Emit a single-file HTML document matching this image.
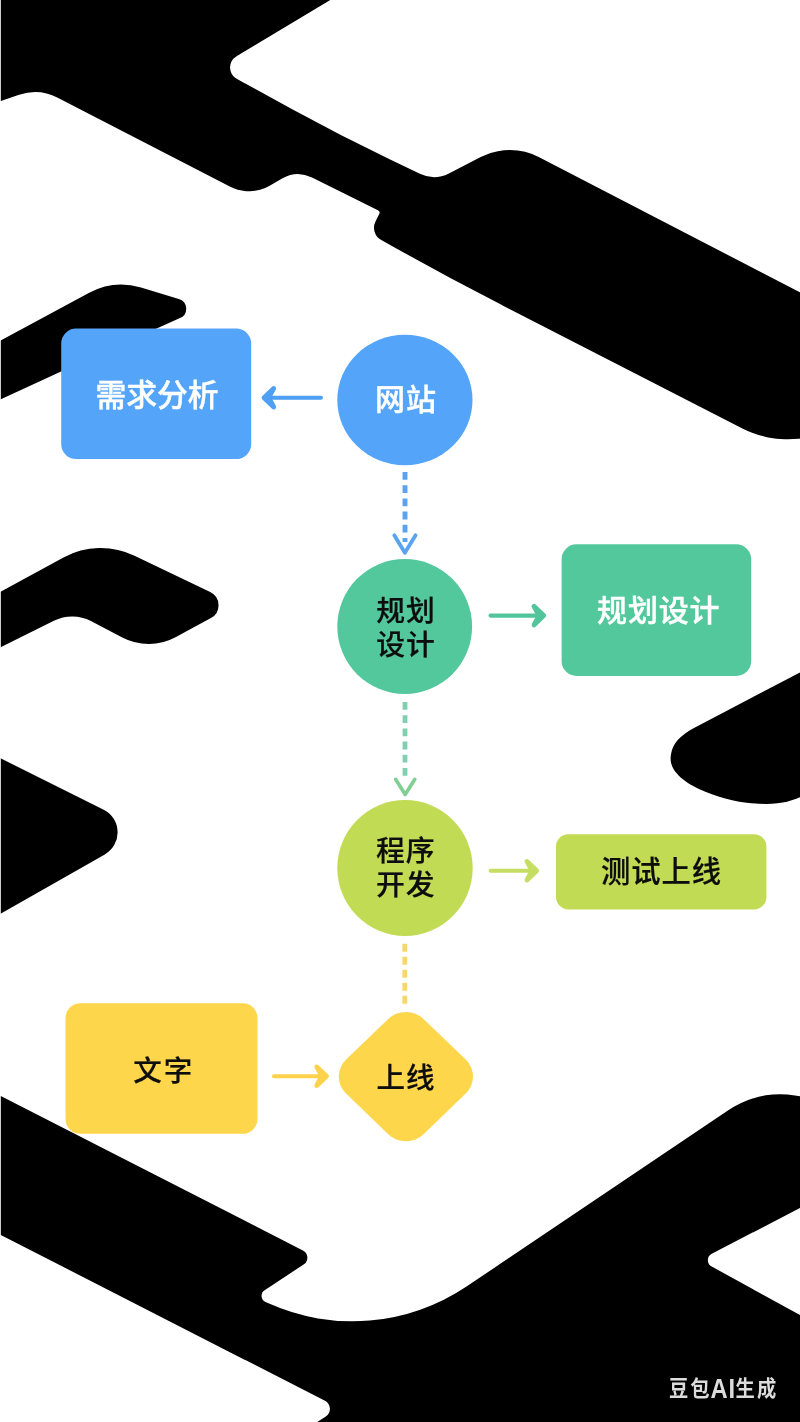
<!DOCTYPE html>
<html lang="zh-CN">
<head>
<meta charset="utf-8">
<title>网站建设流程图</title>
<style>
html,body{margin:0;padding:0;background:#fff;}
body{width:800px;height:1422px;overflow:hidden;position:relative;font-family:"Liberation Sans","Noto Sans CJK SC",sans-serif;}
svg{position:absolute;left:-10px;top:-10px;display:block;will-change:transform;}
text{font-family:"Liberation Sans","Noto Sans CJK SC",sans-serif;font-weight:700;text-anchor:middle;}
.w{fill:#fff;font-weight:500;stroke:#fff;stroke-width:0.45px;stroke-linejoin:round;}
.k{fill:#0d0d0d;font-weight:500;stroke:#0d0d0d;stroke-width:0.22px;stroke-linejoin:round;}
.wm{fill:#dcdcdc;font-weight:700;}
</style>
</head>
<body>
<svg width="820" height="1442" viewBox="-10 -10 820 1442" role="img" aria-label="网站建设流程图">
<rect x="-10" y="-10" width="820" height="1442" fill="#fff"/>
<g fill="#000">
<path d="M-12.0 -12.0L350.3 -12.0L236.2 56.5A12.9 12.9 0 0 0 236.7 78.8L292.7 109.4A2075.8 2075.8 0 0 0 388.6 158.7L419.9 173.8A32.5 32.5 0 0 0 448.9 173.4L480.7 157.1A63.8 63.8 0 0 1 539.2 157.2L812.0 298.6L900.0 298.6L900.0 399.0L827.8 430.9A99.3 99.3 0 0 1 742.4 428.4L503.1 305.7A3298.7 3298.7 0 0 1 401.8 251.5L381.3 240.1A14.1 14.1 0 0 1 375.5 221.5L379.2 214.1A2.9 2.9 0 0 0 377.9 210.2L312.0 177.5A31.3 31.3 0 0 0 282.5 178.3L269.7 185.7A41.7 41.7 0 0 1 229.8 186.6L57.7 97.7A49.4 49.4 0 0 0 19.1 94.8L-12.0 105.4Z"/>
<path d="M-12.0 347.3L89.2 292.8A68.0 68.0 0 0 1 141.0 287.6L178.8 298.9A10.2 10.2 0 0 1 180.0 318.1L150.0 331.6L60.0 372.0L-12.0 405.2Z"/>
<path d="M-12.0 598.5L63.5 557.5A78.0 78.0 0 0 1 134.5 555.8L210.2 592.1A14.6 14.6 0 0 1 210.9 618.1L175.5 637.2A56.6 56.6 0 0 1 122.3 637.6L90.9 621.1A40.8 40.8 0 0 0 53.9 620.8L-12.0 653.5Z"/>
<path d="M-12.0 752.0L103.7 809.8A25.3 25.3 0 0 1 104.8 854.4L-12.0 920.8Z"/>
<path d="M812 666.1L694 728C678 736.4 670.6 746 670.6 759C670.6 773 688 784 699 789C719 798 741 804 766 804C782 804 795 800 805 795L812 791.5Z"/>
</g>
<!-- step 1 -->
<rect x="61.2" y="328.5" width="190" height="130.6" rx="15" fill="#54A4F9"/>
<text class="w" transform="translate(157.00 405.63) scale(1.000 1)" font-size="30.80" stroke-width="0.00">需求分析</text>
<g stroke="#4F9FF2" fill="none" stroke-linecap="round" stroke-linejoin="round"><path d="M320.9 397.7H264.0" stroke-width="4.1"/><path d="M273.7 388.4L264.0 397.7L273.7 407.0L268.7 397.7Z" stroke-width="4.8" fill="#4F9FF2"/></g>
<ellipse cx="404.9" cy="400" rx="67.6" ry="65.2" fill="#54A4F9"/>
<text class="w" transform="translate(405.90 410.15) scale(1.000 1)" font-size="30.00" letter-spacing="1.00" stroke-width="0.30">网站</text>
<path d="M405 472V542" stroke="#5BA3EE" stroke-width="4.9" stroke-dasharray="7.8 5.4" fill="none"/>
<path d="M394.3 535.3L404.9 552.8L415.6 535.3" stroke="#5BA3EE" stroke-width="3.8" fill="none" stroke-linecap="round" stroke-linejoin="round"/>
<!-- step 2 -->
<ellipse cx="404.7" cy="626.5" rx="67.4" ry="67.5" fill="#53C89D"/>
<text class="k" transform="translate(406.10 621.22) scale(1.000 1)" font-size="28.80" letter-spacing="1.00">规划</text>
<text class="k" transform="translate(406.10 654.52) scale(1.000 1)" font-size="28.80" letter-spacing="1.00">设计</text>
<g stroke="#52C59C" fill="none" stroke-linecap="round" stroke-linejoin="round"><path d="M490.6 615.6H543.7" stroke-width="4.1"/><path d="M534.0 606.3L543.7 615.6L534.0 624.9L539.0 615.6Z" stroke-width="4.8" fill="#52C59C"/></g>
<rect x="561.6" y="544.3" width="189.6" height="131.7" rx="15" fill="#53C89D"/>
<text class="w" transform="translate(658.70 620.85) scale(1.000 1)" font-size="30.00" letter-spacing="0.80" stroke-width="0.15">规划设计</text>
<path d="M405 702V778" stroke="#80CFB0" stroke-width="4.8" stroke-dasharray="7.8 5.4" fill="none"/>
<path d="M395.6 779.3L405.2 794.5L414.8 779.3" stroke="#82CF93" stroke-width="3.6" fill="none" stroke-linecap="round" stroke-linejoin="round"/>
<!-- step 3 -->
<ellipse cx="405" cy="868" rx="67.7" ry="68" fill="#C1DB54"/>
<text class="k" transform="translate(405.80 860.62) scale(1.000 1)" font-size="28.80" letter-spacing="1.00">程序</text>
<text class="k" transform="translate(405.80 894.62) scale(1.000 1)" font-size="28.80" letter-spacing="1.00">开发</text>
<g stroke="#C4DD62" fill="none" stroke-linecap="round" stroke-linejoin="round"><path d="M490.6 870.7H536.7" stroke-width="4.1"/><path d="M527.0 861.4L536.7 870.7L527.0 880.0L532.0 870.7Z" stroke-width="4.8" fill="#C4DD62"/></g>
<rect x="556" y="834.2" width="210.4" height="75.3" rx="12.5" fill="#C1DB54"/>
<text class="k" transform="translate(661.45 882.20) scale(1.000 1)" font-size="29.30" letter-spacing="0.90">测试上线</text>
<path d="M404.8 943.7V1006" stroke="#F8D668" stroke-width="4.8" stroke-dasharray="8 5" fill="none"/>
<!-- step 4 -->
<rect x="65.5" y="1003.2" width="192" height="130.6" rx="15" fill="#FED64C"/>
<text class="k" transform="translate(163.80 1080.62) scale(1.000 1)" font-size="28.50" letter-spacing="2.00">文字</text>
<g stroke="#FBD24A" fill="none" stroke-linecap="round" stroke-linejoin="round"><path d="M274.1 1076.2H326.5" stroke-width="4.1"/><path d="M316.8 1066.9L326.5 1076.2L316.8 1085.5L321.8 1076.2Z" stroke-width="4.8" fill="#FBD24A"/></g>
<rect x="-54.8" y="-54.8" width="109.6" height="109.6" rx="25" fill="#FED64C" transform="translate(405.9 1076.6) scale(1 0.963) rotate(45)"/>
<text class="k" transform="translate(406.10 1087.72) scale(1.000 1)" font-size="28.50" letter-spacing="1.00">上线</text>
<g fill="#000"><path d="M-12.0 1089.6L302.9 1250.4A8.2 8.2 0 0 1 303.6 1264.6L264.6 1290.3A6.7 6.7 0 0 0 265.5 1302.0L268.5 1303.3A204.5 204.5 0 0 0 466.5 1286.5L727.9 1110.6A94.8 94.8 0 0 1 794.9 1095.4L812.0 1098.0L812.0 1201.8L711.8 1253.7A7.3 7.3 0 0 0 711.7 1266.6L812.0 1321.6L812.0 1434.0L298.7 1434.0L325.8 1416.5A9.1 9.1 0 0 0 325.0 1400.8L-12.0 1228.4Z"/></g>
<rect x="-10" y="-10" width="11" height="1442" fill="#fff" fill-opacity="0.8"/>
<!-- watermark -->
<text class="wm" style="text-anchor:start" transform="translate(668.9 1395.6) scale(0.88 1)" font-size="21.9" letter-spacing="2.4">豆包<tspan font-size="27" letter-spacing="0.8" dx="-1.2" dy="2.2">AI</tspan><tspan dx="-0.2" dy="-2.2">生成</tspan></text>
</svg>
</body>
</html>
